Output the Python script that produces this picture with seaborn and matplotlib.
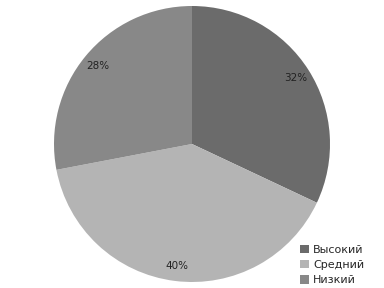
import matplotlib
matplotlib.use("Agg")
import matplotlib.pyplot as plt
import seaborn as sns

sns.set_style("white")
plt.rcParams['font.family'] = ['DejaVu Sans']

categories = ["Высокий", "Средний", "Низкий"]
values = [32, 40, 28]
colors = ["#6b6b6b", "#b4b4b4", "#888888"]

fig = plt.figure(figsize=(3.84, 2.88), dpi=100)
ax = fig.add_axes([54/384, 6/288, 276/384, 276/288])
wedges, texts, autotexts = ax.pie(values, colors=colors, startangle=90, counterclock=False,
                                  autopct="%d%%", pctdistance=0.89,
                                  wedgeprops=dict(linewidth=0),
                                  textprops=dict(fontsize=7.5, color="#222222"))
ax.set_xlim(-1, 1)
ax.set_ylim(-1, 1)
ax.set_aspect("equal")
leg = fig.legend(wedges, categories, loc="lower right", bbox_to_anchor=(0.975, -0.025),
                 frameon=False, fontsize=8, handlelength=0.8, handleheight=0.8,
                 handletextpad=0.4, labelspacing=0.45)
fig.savefig("out.png", dpi=100)
